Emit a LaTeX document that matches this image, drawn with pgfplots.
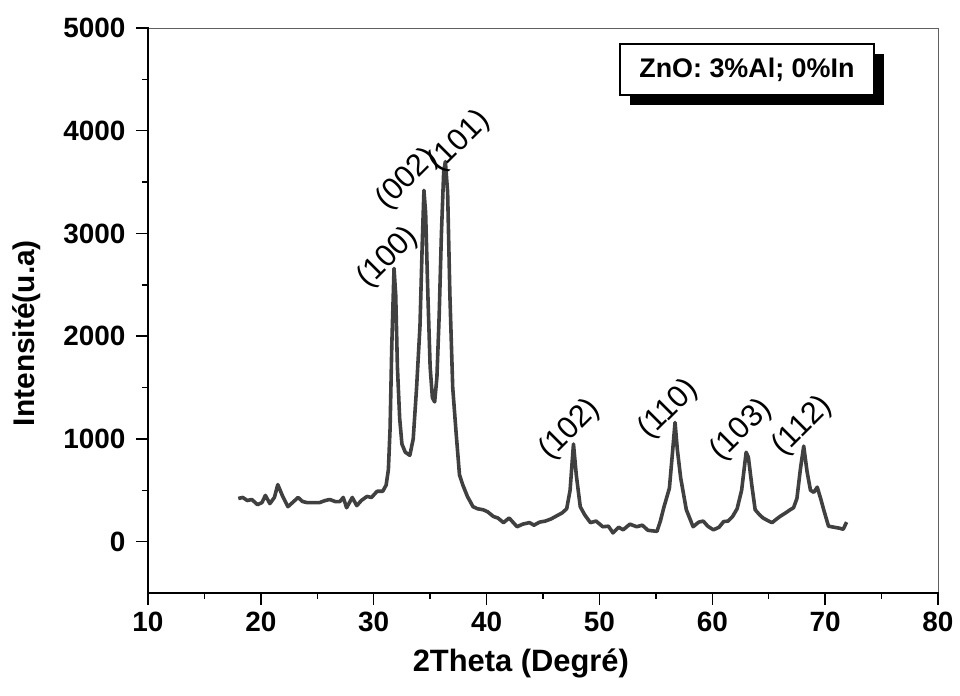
\documentclass[border=0pt]{standalone}
\usepackage{pgfplots}
\pgfplotsset{compat=1.18}
\usepackage{pgfplotstable}
\usepackage{fontspec}
\setmainfont{Liberation Sans}
\usetikzlibrary{shadows}
\definecolor{trace}{HTML}{404040}
\definecolor{frame}{HTML}{606060}
\newcommand\hklfont{\fontsize{31}{35}\selectfont}
\tikzset{hkl/.style={rotate=45, anchor=center, inner sep=1bp}}

% XRD pattern: 2theta (degrees) vs intensity (a.u.)
\pgfplotstableread{
tt I
18.0 420
18.4 430
18.8 400
19.2 410
19.7 360
20.1 380
20.4 450
20.8 370
21.2 430
21.5 555
21.9 450
22.4 340
22.8 380
23.3 430
23.7 390
24.1 380
24.6 380
25.2 380
25.7 400
26.1 410
26.6 390
27.0 390
27.3 430
27.6 330
28.1 430
28.5 350
28.9 400
29.4 440
29.8 430
30.3 490
30.8 490
31.1 550
31.3 700
31.45 1100
31.6 1900
31.8 2660
31.95 2400
32.1 1700
32.3 1200
32.5 950
32.8 870
33.2 840
33.5 1000
33.8 1500
34.1 2100
34.3 2900
34.45 3420
34.6 3200
34.8 2400
35.0 1700
35.2 1400
35.4 1360
35.6 1600
35.8 2200
36.0 3000
36.2 3600
36.35 3700
36.55 3400
36.75 2400
37.0 1500
37.3 1060
37.6 650
37.9 550
38.3 440
38.8 340
39.2 320
39.7 310
40.1 290
40.6 245
41.0 230
41.5 185
42.0 230
42.7 145
43.2 170
43.8 185
44.2 160
44.7 190
45.2 200
45.7 220
46.2 250
46.7 280
47.1 320
47.4 500
47.7 950
47.95 650
48.3 340
48.7 260
49.2 185
49.7 200
50.3 145
50.8 150
51.2 85
51.7 140
52.1 115
52.7 170
53.3 145
53.8 160
54.3 110
55.1 100
55.4 200
55.7 330
56.2 520
56.5 900
56.7 1160
56.9 900
57.2 620
57.7 310
58.3 145
58.8 190
59.2 200
59.6 150
60.1 115
60.6 140
61.0 195
61.4 200
61.8 245
62.2 320
62.6 500
63.0 870
63.2 820
63.5 550
63.8 310
64.2 260
64.5 230
65.0 200
65.3 185
65.7 220
66.0 245
66.5 280
66.9 310
67.2 330
67.5 420
67.8 700
68.1 930
68.4 680
68.7 500
69.0 480
69.3 530
69.6 420
69.9 300
70.3 150
70.8 140
71.3 130
71.6 120
71.9 190
}\xrd

\begin{document}
\begin{tikzpicture}
\begin{axis}[
  scale only axis,
  width=790bp, height=565bp,
  xmin=10, xmax=80, ymin=-500, ymax=5000,
  xtick={10,20,...,80}, minor x tick num=1,
  ytick={0,1000,...,5000}, minor y tick num=1,
  xtick pos=bottom, ytick pos=left,
  tick align=outside,
  major tick length=12bp, minor tick length=6bp,
  tick style={black, line width=1.4bp},
  axis line style={frame, line width=0.8bp},
  /pgf/number format/assume math mode=true,
  /pgf/number format/1000 sep={},
  tick label style={font=\fontsize{28}{32}\selectfont\bfseries},
  yticklabel style={xshift=-7bp},
  xticklabel style={yshift=-4bp},
  xlabel={2Theta (Degré)},
  ylabel={Intensité(u.a)},
  xlabel style={font=\fontsize{31}{35}\selectfont\bfseries,
                at={(axis description cs:0.472,-0.124)}, anchor=center},
  ylabel style={font=\fontsize{30}{34}\selectfont\bfseries,
                at={(axis description cs:-0.153,0.46)}, anchor=center},
  clip=false,
]
\addplot[trace, line width=3.6bp, line join=round, no marks] table[x=tt, y=I] {\xrd};

% thick left and bottom axis lines
\draw[black, line width=2.6bp, line cap=rect]
  (rel axis cs:0,1) -- (rel axis cs:0,0) -- (rel axis cs:1,0);

% reflection indices
\node[hkl] at (axis cs:31.27,2763) {\hklfont (100)};
\node[hkl] at (axis cs:32.97,3531) {\hklfont (002)};
\node[hkl] at (axis cs:37.60,3895) {\hklfont (101)};
\node[hkl] at (axis cs:47.40,1090) {\hklfont (102)};
\node[hkl] at (axis cs:56.10,1285) {\hklfont (110)};
\node[hkl] at (axis cs:62.58,1085) {\hklfont (103)};
\node[hkl] at (axis cs:68.00,1125) {\hklfont (112)};

% sample composition box
\node[draw=black, line width=1.2bp, fill=white,
      minimum width=254bp, minimum height=51bp, inner sep=0pt,
      font=\fontsize{27}{31}\selectfont\bfseries,
      drop shadow={shadow xshift=10bp, shadow yshift=-10bp, fill=black, opacity=1}]
  at (axis cs:63.07,4596) {ZnO: 3\%Al; 0\%In};

\coordinate (sw) at (rel axis cs:0,0);
\coordinate (ne) at (rel axis cs:1,1);
\end{axis}
\pgfresetboundingbox
\path[use as bounding box] ([shift={(-148bp,-103bp)}]sw) rectangle ([shift={(22bp,28bp)}]ne);
\end{tikzpicture}
\end{document}
